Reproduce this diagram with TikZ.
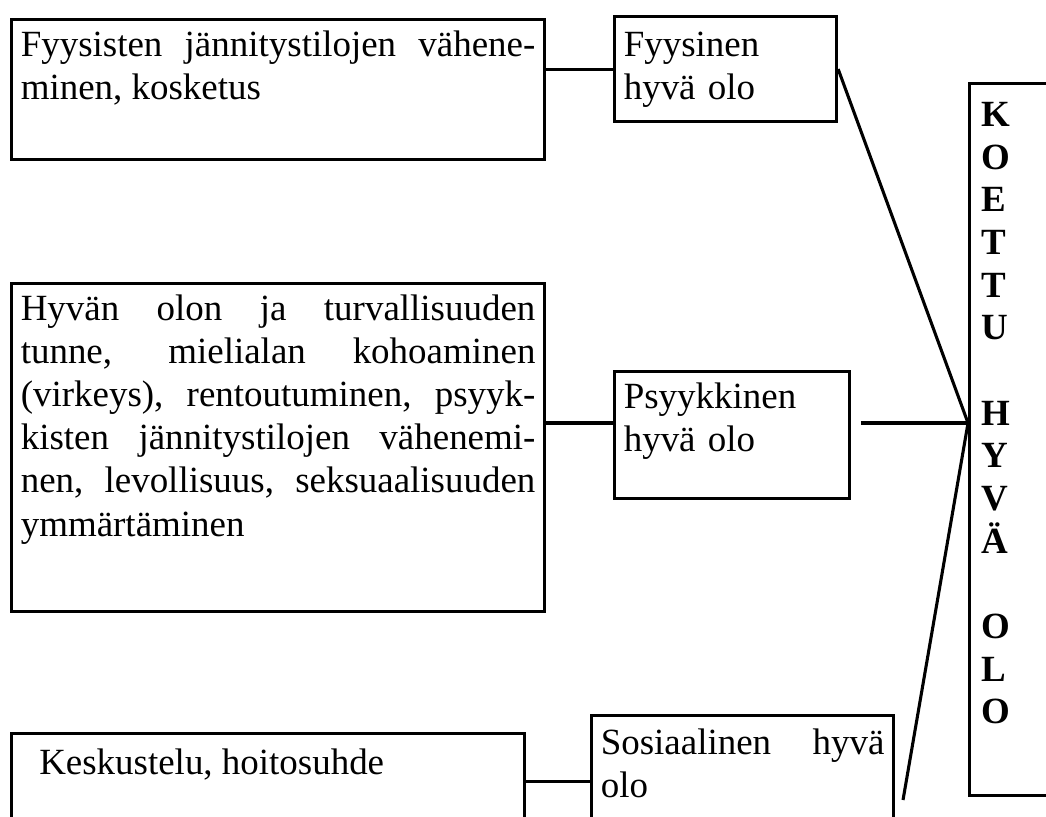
\documentclass[tikz,border=0pt]{standalone}
\usepackage{fontspec}
\setmainfont{Liberation Serif}
\begin{document}
\begin{tikzpicture}
  [
    x=0.3247pt, y=-0.3247pt,
    every node/.style={font=\fontsize{12pt}{14pt}\selectfont},
    cell/.style={draw=black, line width=1pt, anchor=north west,
      inner xsep=3pt, inner ysep=0pt, align=justify},
    ld/.style={draw=black, line width=1pt}
  ]
  \useasboundingbox (0,0) rectangle (1046,816);
  \node (b1) at (10,18) [cell, text width=167.1pt, text height=12pt, text depth=33.4pt]
    {Fyysisten jännitystilojen vähene-\linebreak minen, kosketus};
  \node (b2) at (10,282) [cell, text width=167.1pt, text height=12pt, text depth=94.5pt]
    {Hyvän olon ja turvallisuuden\linebreak tunne, mielialan kohoaminen\linebreak
     (virkeys), rentoutuminen, psyyk-\linebreak kisten jännitystilojen vähenemi-\linebreak
     nen, levollisuus, seksuaalisuuden\linebreak ymmärtäminen};
  \node (kes) at (10,732) [cell, text width=160.6pt, text height=13.3pt, text depth=25pt]
    {\hspace*{6pt}Keskustelu, hoitosuhde};
  \node (fys) at (613,15) [cell, align=left, text width=66.1pt, text height=13pt, text depth=21.1pt]
    {Fyysinen\\hyvä olo};
  \node (psy) at (613,370) [cell, align=left, text width=70.3pt, text height=12pt, text depth=29.2pt]
    {Psyykkinen\\hyvä olo};
  \node (sos) at (590,714) [cell, text width=92.1pt, text height=12.7pt, text depth=30.2pt]
    {Sosiaalinen hyvä\linebreak olo};
  \node (koettu) at (968,82) [cell, align=left, text width=25pt, inner xsep=3.9pt,
    text height=14pt, text depth=217.2pt,
    font=\fontsize{12pt}{13.85pt}\selectfont\bfseries]
    {K\\O\\E\\T\\T\\U\\\mbox{}\\H\\Y\\V\\Ä\\\mbox{}\\O\\L\\O};

  \coordinate (hub) at (968,423);
  \coordinate (s3) at (903,800);

  \draw [ld] (b1.east |- fys.west) -- (fys.west);
  \draw [ld] (fys.east) -- (hub);
  \draw [ld] (b2.east |- hub) -- (psy.west |- hub);
  \draw [ld, shorten <=3.2pt] (psy.east |- hub) -- (hub);
  \draw [ld] (kes.east |- sos.west) -- (sos.west);
  \draw [ld] (s3) -- (hub);
\end{tikzpicture}
\end{document}
